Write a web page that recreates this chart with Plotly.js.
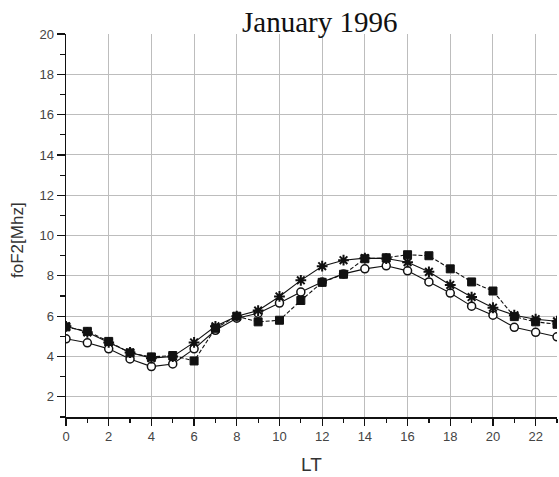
<!DOCTYPE html>
<html>
<head>
<meta charset="utf-8">
<script src="https://cdn.plot.ly/plotly-3.0.1.min.js"></script>
<style>html,body{margin:0;padding:0;background:#fff;}#chart{width:559px;height:477px;}</style>
</head>
<body>
<div id="chart"></div>
<script>
const hours = [0,1,2,3,4,5,6,7,8,9,10,11,12,13,14,15,16,17,18,19,20,21,22,23];
const squares = [5.47,5.25,4.75,4.18,3.98,4.05,3.78,5.4,6.0,5.72,5.8,6.78,7.68,8.08,8.85,8.9,9.05,9.0,8.35,7.7,7.25,5.98,5.72,5.6];
const stars = [5.5,5.2,4.7,4.2,3.92,4.0,4.7,5.5,6.0,6.28,6.98,7.78,8.48,8.78,8.88,8.86,8.68,8.2,7.55,6.95,6.42,6.05,5.85,5.75];
const circles = [4.88,4.68,4.38,3.88,3.5,3.63,4.38,5.3,5.9,6.15,6.65,7.2,7.7,8.1,8.35,8.5,8.25,7.7,7.15,6.5,6.05,5.45,5.2,4.98];
const xMajor = [0,2,4,6,8,10,12,14,16,18,20,22];
const yMajor = [2,4,6,8,10,12,14,16,18,20];
const yGrid = [2,4,6,8,10,12,14,16,18];

const traces = [
  {x: [], y: [], type: 'scatter', mode: 'lines', yaxis: 'y2', hoverinfo: 'skip', showlegend: false},
  {x: hours, y: circles, mode: 'lines+markers', type: 'scatter',
   line: {color: '#111', width: 1.1},
   marker: {symbol: 'circle', size: 8, color: '#fff', line: {color: '#111', width: 1.5}}},
  {x: hours, y: stars, mode: 'lines+markers', type: 'scatter',
   line: {color: '#111', width: 1.1},
   marker: {symbol: 'asterisk-open', size: 9, color: '#111', line: {color: '#111', width: 2}}},
  {x: hours, y: squares, mode: 'lines+markers', type: 'scatter',
   line: {color: '#111', width: 1.1, dash: '4px,2px'},
   marker: {symbol: 'square', size: 8, color: '#111', line: {color: '#111', width: 1}}}
];

const tickFont = {family: 'Liberation Sans, Arial, sans-serif', size: 13, color: '#444'};

const layout = {
  width: 559, height: 477,
  margin: {l: 66, r: 2, t: 34, b: 60},
  paper_bgcolor: '#fff', plot_bgcolor: '#fff',
  showlegend: false,
  title: {text: 'January 1996', font: {family: 'Liberation Serif, Times New Roman, serif', size: 29, color: '#111'},
          x: 0.572, xref: 'container', xanchor: 'center', y: 0.955, yref: 'container', yanchor: 'middle'},
  xaxis: {range: [0, 23], tickmode: 'array', tickvals: xMajor, ticks: 'outside', ticklen: 7, tickwidth: 1.2, tickcolor: '#111',
          showline: true, linecolor: '#111', linewidth: 1.5, zeroline: false,
          showgrid: true, gridcolor: '#bdbdbd', gridwidth: 1,
          minor: {dtick: 1, tick0: 0, ticks: 'outside', ticklen: 4, tickwidth: 1.2, tickcolor: '#111', showgrid: false},
          tickfont: tickFont,
          title: {text: 'LT', font: {family: 'Liberation Sans, Arial, sans-serif', size: 19, color: '#333'}, standoff: 14}},
  yaxis: {range: [1, 20], tickmode: 'array', tickvals: yMajor, ticks: 'outside', ticklen: 8, tickwidth: 1.2, tickcolor: '#111',
          showline: true, linecolor: '#111', linewidth: 1.5, zeroline: false, showgrid: false,
          minor: {dtick: 1, tick0: 0, ticks: 'outside', ticklen: 5, tickwidth: 1.2, tickcolor: '#111', showgrid: false},
          tickfont: tickFont},
  yaxis2: {range: [1, 20], overlaying: 'y', tickmode: 'array', tickvals: yGrid, showticklabels: false, ticks: '',
           showgrid: true, gridcolor: '#bdbdbd', gridwidth: 1, zeroline: false, showline: false},
  annotations: [
    {text: 'foF2[Mhz]', textangle: -90, xref: 'paper', yref: 'paper', x: -0.1, y: 0.462,
     xanchor: 'center', yanchor: 'middle', showarrow: false,
     font: {family: 'Liberation Sans, Arial, sans-serif', size: 17, color: '#333'}}
  ]
};

Plotly.newPlot('chart', traces, layout, {displayModeBar: false, staticPlot: true});
</script>
</body>
</html>
